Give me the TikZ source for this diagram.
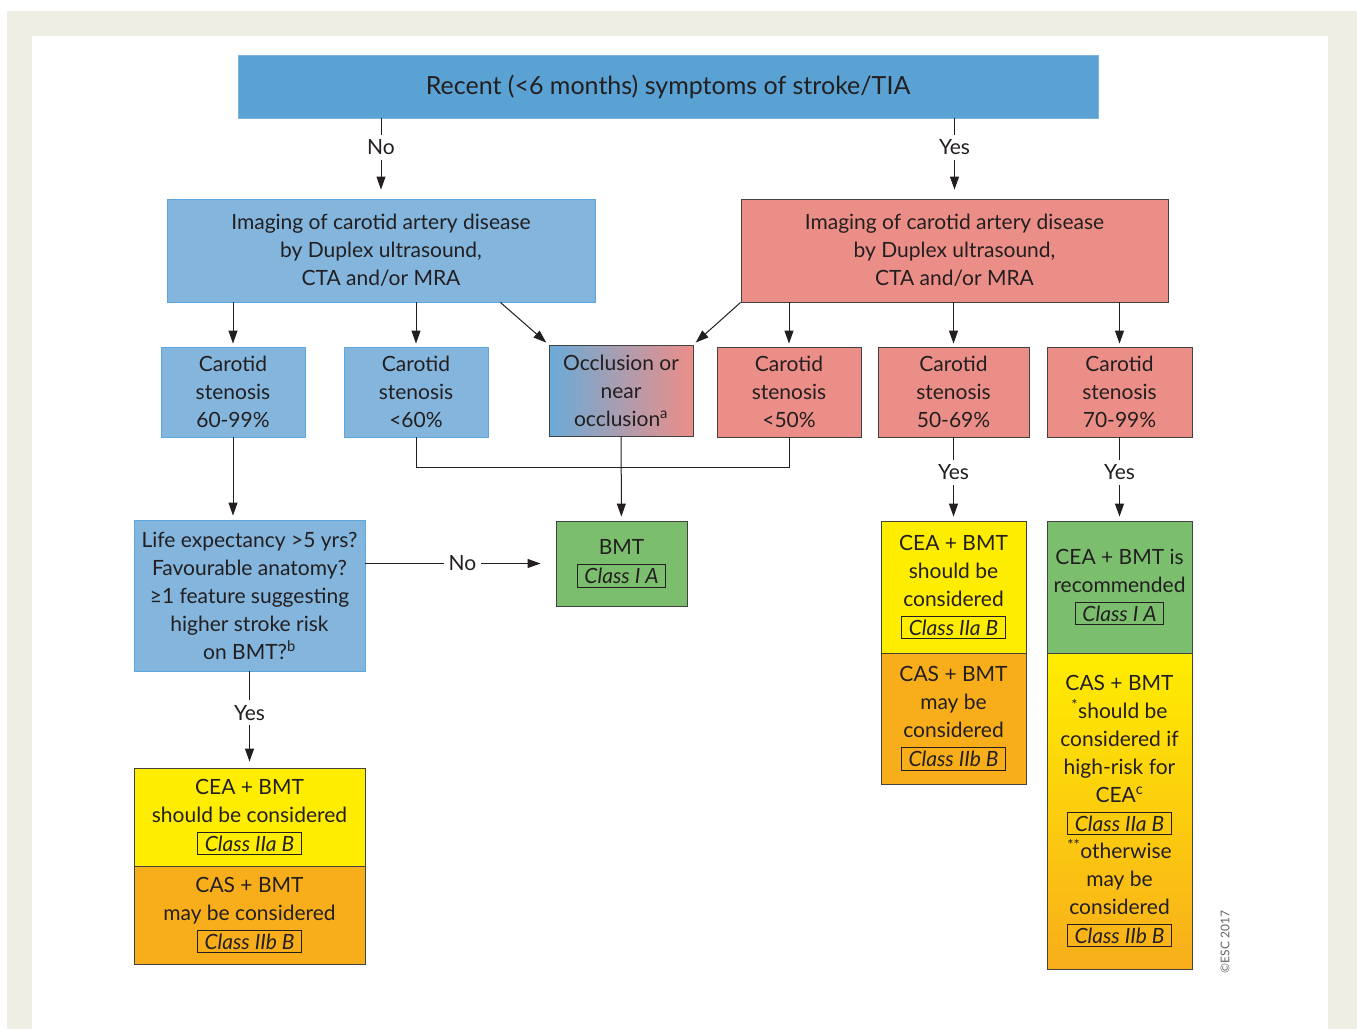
\documentclass[tikz,border=0pt]{standalone}
\usepackage{fontspec}
\setmainfont{Lato}
\usetikzlibrary{arrows.meta,calc}
\definecolor{topblue}{HTML}{5AA2D3}
\definecolor{lblue}{HTML}{83B5DD}
\definecolor{bluerule}{HTML}{5CA7DE}
\definecolor{lred}{HTML}{EC8E88}
\definecolor{lgreen}{HTML}{7BBF6E}
\definecolor{lyellow}{HTML}{FFED00}
\definecolor{lorange}{HTML}{F8AE1B}
\definecolor{framegray}{HTML}{EFEEE4}
\definecolor{ink}{HTML}{231F20}
\newcommand{\clbox}[1]{{\setlength{\fboxsep}{3pt}\setlength{\fboxrule}{0.8pt}\raisebox{-1pt}{\fbox{\,\textit{#1}\,}}}}
\tikzset{box/.style={draw=ink!85,line width=0.9pt,inner sep=0pt,align=center,text=ink}}
\tikzset{bl/.style={box,fill=lblue,draw=bluerule}}
\tikzset{rd/.style={box,fill=lred}}
\tikzset{gr/.style={box,fill=lgreen}}
\tikzset{ye/.style={box,fill=lyellow}}
\tikzset{or/.style={box,fill=lorange}}
\tikzset{cell/.style={minimum width=144pt,minimum height=90pt}}
\tikzset{arr/.style={-{Triangle[length=13pt,width=9pt]},line width=1pt,draw=ink}}
\tikzset{lab/.style={fill=white,inner sep=5pt,text=ink}}

\begin{document}
\begin{tikzpicture}[x=1pt,y=-1pt]
  % frame
  \fill[white] (0,0) rectangle (1357,1029);
  \fill[framegray] (7,11) rectangle (1357,1029);
  \fill[white] (32,36) rectangle (1328,1029);
  \begin{scope}[font=\fontsize{21}{28}\selectfont]
    \node[box,fill=topblue,draw=topblue!80!white,minimum width=860pt,minimum height=63pt,
      font=\fontsize{25}{28}\selectfont] (top) at (668,86.5) {Recent (<6 months) symptoms of stroke/TIA};
    \node[bl,minimum width=428pt,minimum height=103pt] (limg) at (381,250.5)
      {Imaging of carotid artery disease\\by Duplex ultrasound,\\CTA and/or MRA};
    \node[rd,minimum width=427pt,minimum height=103pt] (rimg) at (954.5,250.5)
      {Imaging of carotid artery disease\\by Duplex ultrasound,\\CTA and/or MRA};
    % stenosis row
    \node[bl,cell] (c6099) at (233,392) {Carotid\\stenosis\\60-99\%};
    \node[bl,cell] (c60) at (416,392) {Carotid\\stenosis\\<60\%};
    \node[box,cell,left color=topblue!90!white,right color=lred,minimum height=91pt] (occ) at (621,390.5)
      {Occlusion or\\near\\occlusion\textsuperscript{a}};
    \node[rd,cell] (c50) at (789,392) {Carotid\\stenosis\\<50\%};
    \node[rd,cell,minimum width=151pt] (c5069) at (953.5,392) {Carotid\\stenosis\\50-69\%};
    \node[rd,cell,minimum width=145pt] (c7099) at (1119.5,392) {Carotid\\stenosis\\70-99\%};
    % decisions
    \node[bl,minimum width=231pt,minimum height=151pt] (life) at (249.5,595.5)
      {Life expectancy >5 yrs?\\Favourable anatomy?\\≥1 feature suggesting\\higher stroke risk\\on BMT?\textsuperscript{b}};
    \node[gr,minimum width=131pt,minimum height=85pt] (bmt) at (621.5,563.5) {BMT\\\clbox{Class I A}};
    \node[ye,minimum width=231pt,minimum height=98pt] (lcea) at (249.5,817)
      {CEA + BMT\\should be considered\\\clbox{Class IIa B}};
    \node[or,minimum width=231pt,minimum height=98pt] (lcas) at (249.5,915)
      {CAS + BMT\\may be considered\\\clbox{Class IIb B}};
    \node[ye,minimum width=145pt,minimum height=132pt] (mcea) at (953.5,587)
      {CEA + BMT\\should be\\considered\\\clbox{Class IIa B}};
    \node[or,minimum width=145pt,minimum height=131pt] (mcas) at (953.5,718.5)
      {CAS + BMT\\may be\\considered\\\clbox{Class IIb B}};
    \node[gr,minimum width=145pt,minimum height=132pt] (rcea) at (1119.5,587)
      {CEA + BMT is\\recommended\\\clbox{Class I A}};
    \node[box,top color=lyellow,bottom color=lorange,minimum width=145pt,minimum height=316pt] (rcas) at (1119.5,811)
      {CAS + BMT\\\textsuperscript{*}should be\\considered if\\high-risk for\\CEA\textsuperscript{c}\\\clbox{Class IIa B}\\
       \textsuperscript{**}otherwise\\may be\\considered\\\clbox{Class IIb B}};
    % connectors
    \draw[arr,shorten >=9pt] (top.south -| limg) -- node[lab,pos=0.36] {No} (limg);
    \draw[arr,shorten >=9pt] (top.south -| rimg) -- node[lab,pos=0.36] {Yes} (rimg);
    \draw[arr,shorten >=3pt] (limg.south -| c6099) -- (c6099);
    \draw[arr,shorten >=3pt] (limg.south -| c60) -- (c60);
    \draw[arr,shorten >=3pt] ($(limg.south east)+(-95,0)$) -- (occ.north west);
    \draw[arr,shorten >=3pt] (rimg.south west) -- (occ.north east);
    \draw[arr,shorten >=3pt] (rimg.south -| c50) -- (c50);
    \draw[arr,shorten >=3pt] (rimg.south -| c5069) -- (c5069);
    \draw[arr,shorten >=3pt] (rimg.south -| c7099) -- (c7099);
    \draw[line width=1pt,draw=ink] (c60.south) -- (c60.south |- 0,467) -| (c50.south);
    \draw[arr,shorten >=4pt] (occ) -- (bmt);
    \draw[arr,shorten >=4pt] (c6099) -- (c6099 |- life.north);
    \draw[arr,shorten >=15pt] (life.east |- bmt) -- node[lab,pos=0.51] {No} (bmt);
    \draw[arr,shorten >=6pt] (life) -- node[lab,pos=0.43] {Yes} (lcea);
    \draw[arr,shorten >=4pt] (c5069) -- node[lab,pos=0.42] {Yes} (mcea);
    \draw[arr,shorten >=4pt] (c7099) -- node[lab,pos=0.42] {Yes} (rcea);
  \end{scope}
  \node[rotate=90,text=ink!70,font=\fontsize{12}{12}\selectfont] (copy) at (1225,942) {©ESC 2017};
\end{tikzpicture}
\end{document}
